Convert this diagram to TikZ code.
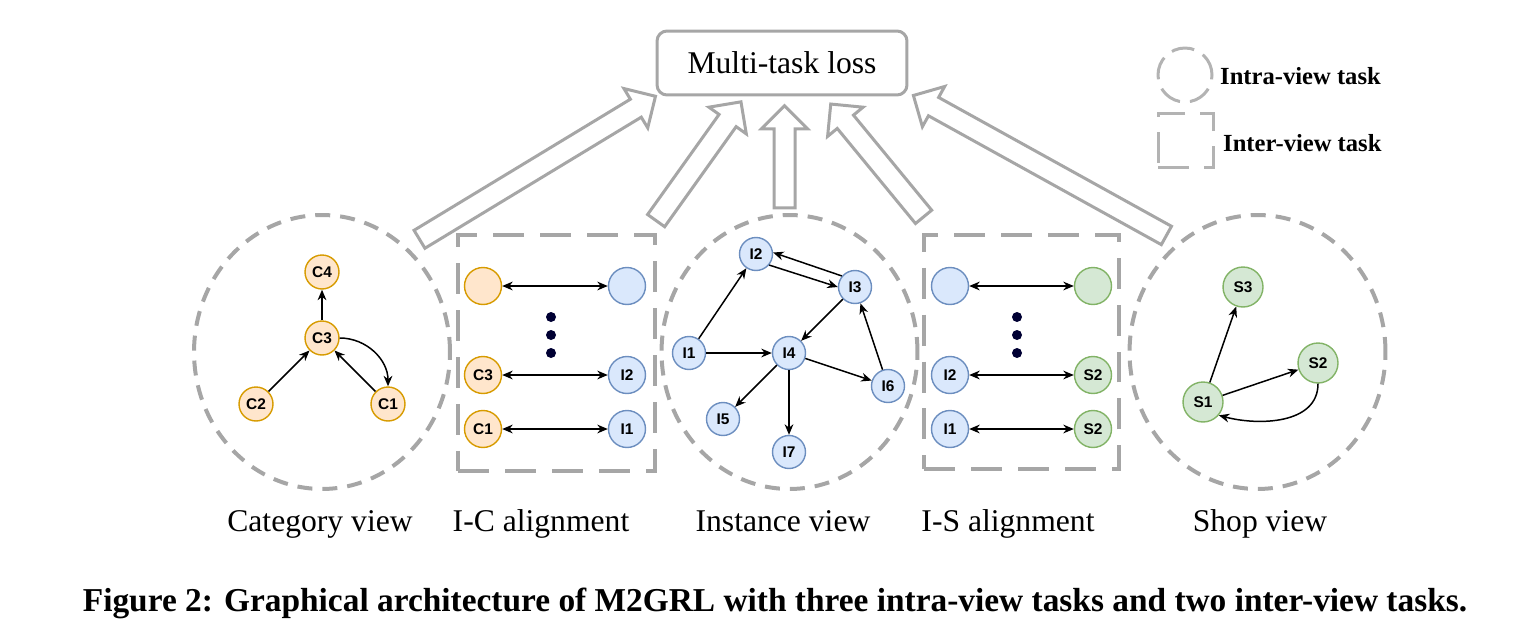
\documentclass[tikz,border=0pt]{standalone}
\usepackage{fontspec}
\setmainfont{Liberation Serif}
\setsansfont{Liberation Sans}
\usetikzlibrary{arrows.meta,shapes.arrows,shapes.geometric,calc}

\definecolor{viewgray}{HTML}{A6A6A6}
\definecolor{leggray}{HTML}{B3B3B3}
\definecolor{orangefill}{HTML}{FFE6CC}
\definecolor{orangeline}{HTML}{D79B00}
\definecolor{bluefill}{HTML}{DAE8FC}
\definecolor{blueline}{HTML}{6C8EBF}
\definecolor{greenfill}{HTML}{D5E8D4}
\definecolor{greenline}{HTML}{82B366}
\definecolor{dotblue}{HTML}{000033}

\begin{document}
\begin{tikzpicture}[x=0.02cm,y=-0.02cm,
    vnode/.style={circle,inner sep=0pt,line width=0.8pt,font=\sffamily\bfseries\fontsize{8.8}{10}\selectfont},
    cnode/.style={vnode,draw=orangeline,fill=orangefill,minimum size=0.68cm},
    inode/.style={vnode,draw=blueline,fill=bluefill,minimum size=0.66cm},
    snode/.style={vnode,draw=greenline,fill=greenfill,minimum size=0.8cm},
    acnode/.style={cnode,minimum size=0.74cm},
    ainode/.style={inode,minimum size=0.74cm},
    asnode/.style={snode,minimum size=0.74cm},
    dotnode/.style={circle,fill=dotblue,inner sep=0pt,minimum size=0.2cm},
    link/.style={-{Stealth[length=6pt,width=5pt]},line width=0.85pt},
    dlink/.style={{Stealth[length=6pt,width=5pt]}-{Stealth[length=6pt,width=5pt]},line width=0.85pt},
    intra/.style={ellipse,draw=viewgray,line width=0.08cm,dash pattern=on 0.3cm off 0.2cm,
        minimum width=5.12cm,minimum height=5.48cm,inner sep=0pt},
    inter/.style={rectangle,draw=viewgray,line width=0.08cm,dash pattern=on 0.62cm off 0.32cm,inner sep=0pt},
    bigarrow/.style={single arrow,draw=viewgray,fill=white,line width=0.06cm,inner sep=0.18cm,
        single arrow head extend=0.25cm,outer sep=0pt},
    viewlabel/.style={anchor=base,font=\fontsize{18}{22}\selectfont}]

    \useasboundingbox (0,0) rectangle (1528,636);

    \node[draw=viewgray,line width=0.06cm,rounded corners=0.2cm,minimum width=5cm,minimum height=1.28cm,
        font=\fontsize{18}{22}\selectfont] (loss) at (782,63) {Multi-task loss};

    \node[circle,draw=leggray,line width=0.06cm,dash pattern=on 0.46cm off 0.2cm,minimum size=1.08cm] (legintra) at (1185,75) {};
    \node[anchor=west,font=\bfseries\fontsize{14}{16}\selectfont] (legintratxt) at (1214,76) {Intra-view task};
    \node[rectangle,draw=leggray,line width=0.06cm,dash pattern=on 0.62cm off 0.3cm,minimum size=1.1cm] (leginter) at (1185.5,140.5) {};
    \node[anchor=west,font=\bfseries\fontsize{14}{16}\selectfont] (leginterttxt) at (1217,143) {Inter-view task};

    \node[intra] (catview) at (322,352) {};
    \node[inter,minimum width=3.94cm,minimum height=4.72cm] (icalign) at (556.5,353) {};
    \node[intra] (insview) at (789.5,352) {};
    \node[inter,minimum width=3.9cm,minimum height=4.7cm] (isalign) at (1021.5,352) {};
    \node[intra] (shopview) at (1257.5,352) {};

    \coordinate (t1) at (415,242);
    \coordinate (h1) at (651,99);
    \coordinate (t2) at (653,225);
    \coordinate (h2) at (738,106);
    \coordinate (t3) at (784.5,213);
    \coordinate (h3) at (784.5,111);
    \coordinate (t4) at (927,221);
    \coordinate (h4) at (834,108);
    \coordinate (t5) at (1171,238);
    \coordinate (h5) at (918,98);
    \foreach \k in {1,...,5}{
        \path let \p1=($(h\k)-(t\k)$), \n1={atan2(\y1,\x1)}, \n2={veclen(\x1,\y1)} in
            node[bigarrow,rotate=\n1,minimum height=\n2] (up\k) at ($(t\k)!0.5!(h\k)$) {};
    }

    \node[cnode] (C4) at (322,272) {C4};
    \node[cnode] (C3) at (322,338) {C3};
    \node[cnode] (C2) at (256,404) {C2};
    \node[cnode] (C1) at (388,404) {C1};
    \draw[link] (C3) -- (C4);
    \draw[link] (C2) -- (C3);
    \draw[link] (C1) -- (C3);
    \draw[link] (C3.east) to[out=0,in=90] (C1.north);

    \node[acnode] (icC0) at (483,286) {};
    \node[ainode] (icI0) at (627,286) {};
    \node[acnode] (icC3) at (483,375) {C3};
    \node[ainode] (icI2) at (627,375) {I2};
    \node[acnode] (icC1) at (483,429) {C1};
    \node[ainode] (icI1) at (627,429) {I1};
    \draw[dlink] (icC0) -- (icI0);
    \draw[dlink] (icC3) -- (icI2);
    \draw[dlink] (icC1) -- (icI1);
    \foreach \y [count=\i] in {317,335,353}
        \node[dotnode] (icdot\i) at (551,\y) {};

    \node[inode] (I2) at (756,254) {I2};
    \node[inode] (I3) at (855,287) {I3};
    \node[inode] (I1) at (689,353) {I1};
    \node[inode] (I4) at (789,353) {I4};
    \node[inode] (I6) at (888,386) {I6};
    \node[inode] (I5) at (723,419) {I5};
    \node[inode] (I7) at (789,452) {I7};
    \draw[link] (I1) -- (I2);
    \draw[link] (I1) -- (I4);
    \draw[link] (I3.140) -- (I2.5);
    \draw[link] (I2.-40) -- (I3.180);
    \draw[link] (I3) -- (I4);
    \draw[link] (I4) -- (I6);
    \draw[link] (I6) -- (I3);
    \draw[link] (I4) -- (I5);
    \draw[link] (I4) -- (I7);

    \node[ainode] (isI0) at (950,286) {};
    \node[asnode] (isS0) at (1093,286) {};
    \node[ainode] (isI2) at (950,375) {I2};
    \node[asnode] (isS2a) at (1093,375) {S2};
    \node[ainode] (isI1) at (950,429) {I1};
    \node[asnode] (isS2b) at (1093,429) {S2};
    \draw[dlink] (isI0) -- (isS0);
    \draw[dlink] (isI2) -- (isS2a);
    \draw[dlink] (isI1) -- (isS2b);
    \foreach \y [count=\i] in {317,335,353}
        \node[dotnode] (isdot\i) at (1017,\y) {};

    \node[snode] (S3) at (1243,287) {S3};
    \node[snode] (S2) at (1318,363) {S2};
    \node[snode] (S1) at (1203,402) {S1};
    \draw[link] (S1) -- (S3);
    \draw[link] (S1) -- (S2);
    \draw[link] (S2.south) to[out=-90,in=-15] (S1.-40);

    \node[viewlabel] (catlbl) at (320,531) {Category view};
    \node[viewlabel] (iclbl) at (541,531) {I-C alignment};
    \node[viewlabel] (inslbl) at (783,531) {Instance view};
    \node[viewlabel] (islbl) at (1008,531) {I-S alignment};
    \node[viewlabel] (shoplbl) at (1260,531) {Shop view};

    \node[anchor=base,font=\bfseries\fontsize{19}{23}\selectfont] (caption) at (775,611)
        {Figure 2: Graphical architecture of M2GRL with three intra-view tasks and two inter-view tasks.};
\end{tikzpicture}
\end{document}
